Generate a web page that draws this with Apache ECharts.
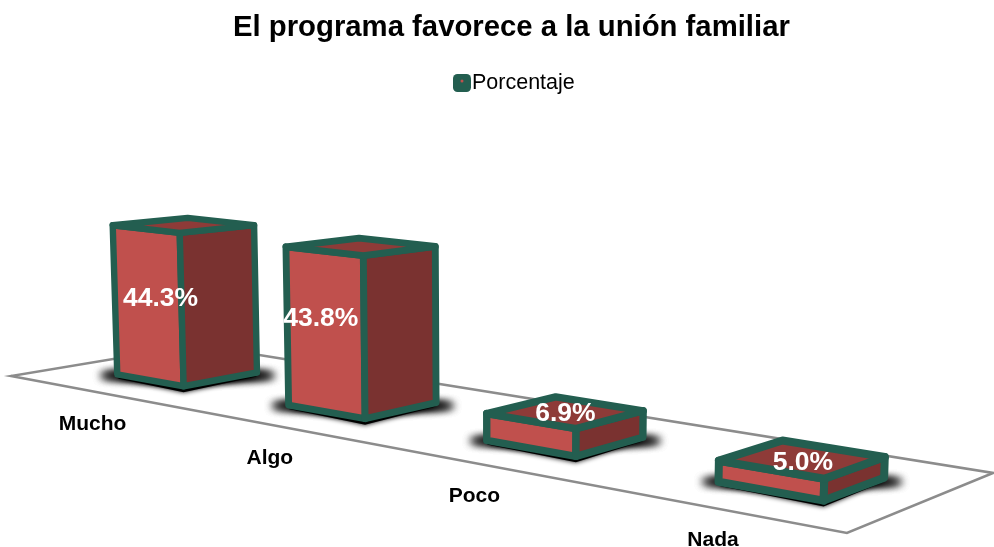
<!DOCTYPE html>
<html lang="es">
<head>
    <meta charset="UTF-8">
    <title>El programa favorece a la unión familiar</title>
    <script src="https://cdn.jsdelivr.net/npm/echarts@6/dist/echarts.min.js"></script>
    <style>
        html, body { margin: 0; padding: 0; background: #fff; }
        #chart { width: 994px; height: 547px; }
    </style>
</head>
<body>
    <div id="chart"></div>
    <script>
        var categories = ['Mucho', 'Algo', 'Poco', 'Nada'];
        var porcentaje = [44.3, 43.8, 6.9, 5.0];

        var fontName = '"Liberation Sans", Arial, sans-serif';
        var green = '#235E50';
        var frontColor = '#C0504D';
        var sideColor = '#7A3230';
        var topColor = '#8E3B38';

        // perspective of the floor: unit square -> screen
        var A = 607, B = 205.7, C = 11, D = 12.9, E = 3.4, F = 376, G = -0.2703, H = 0.0998;
        var floorWidth = 984;
        var halfU = 0.051, halfV = 0.2;
        // the data labels sit by hand on the original, not in the bar centre
        var labelNudge = [[-27, -1], [-42, -7], [0, -12], [1, -7]];

        function project(u, v, height) {
            var w = G * u + H * v + 1;
            var x = (A * u + B * v + C) / w;
            var y = (D * u + E * v + F) / w;
            var h = height / w;
            // verticals open slightly going up
            return [x + (x - 500) * h * 8e-5, y - h];
        }

        function face(points, fill, lineWidth) {
            return {
                type: 'polygon',
                shape: { points: points },
                style: { fill: fill, stroke: green, lineWidth: lineWidth, lineJoin: 'round' }
            };
        }

        // blurred black only: the shape itself is kept off the page
        function softShadow(shape, blur) {
            return {
                type: 'ellipse',
                shape: { cx: shape.cx - 2000, cy: shape.cy, rx: shape.rx, ry: shape.ry },
                style: { fill: '#000', shadowBlur: blur, shadowColor: '#000', shadowOffsetX: 2000 }
            };
        }

        function renderFloor() {
            return {
                type: 'polygon',
                shape: { points: [project(0, 0, 0), project(1, 0, 0), project(1, 1, 0), project(0, 1, 0)] },
                style: { fill: '#fff', stroke: '#8C8C8C', lineWidth: 2.5, lineJoin: 'miter' }
            };
        }

        function renderBar(params, api) {
            var i = api.value(0);
            var value = api.value(1);
            var box = params.coordSys;
            var base = api.coord([i, 0]);
            var height = base[1] - api.coord([i, value])[1];
            var u = (base[0] - box.x) / floorWidth;
            var v = 0.5;

            var u0 = u - halfU, u1 = u + halfU, v0 = v - halfV, v1 = v + halfV;
            var left = project(u0, v0, 0), front = project(u1, v0, 0), right = project(u1, v1, 0), back = project(u0, v1, 0);
            var topLeft = project(u0, v0, height), topFront = project(u1, v0, height);
            var topRight = project(u1, v1, height), topBack = project(u0, v1, height);
            var centre = project(u, v, 0);
            var middle = project(u, v, height / 2);
            var lineWidth = 6.5 / (G * u + H * v + 1);

            var shadow = { cx: centre[0], cy: (left[1] + right[1]) / 2 + 2, rx: (right[0] - left[0]) / 2 + 17, ry: 5 };
            var children = [
                softShadow(shadow, 8),
                softShadow(shadow, 8),
                softShadow(shadow, 8),
                {
                    type: 'polygon',
                    shape: { points: [[left[0], left[1] + 4], [front[0], front[1] + 6], [right[0], right[1] + 4], back] },
                    style: { fill: '#000', shadowBlur: 5, shadowColor: '#000' }
                },
                face([left, front, topFront, topLeft], frontColor, lineWidth),
                face([front, right, topRight, topFront], sideColor, lineWidth),
                face([topLeft, topFront, topRight, topBack], topColor, lineWidth),
                {
                    type: 'text',
                    style: {
                        x: centre[0] + labelNudge[i][0],
                        y: middle[1] + labelNudge[i][1],
                        text: value.toFixed(1) + '%',
                        fill: '#fff',
                        font: 'bold 26.5px ' + fontName,
                        align: 'center',
                        verticalAlign: 'middle'
                    }
                },
                {
                    type: 'text',
                    style: {
                        x: centre[0] - 96 + 8 * u,
                        y: centre[1] + 49.5 + 12 * u,
                        text: categories[i],
                        fill: '#000',
                        font: 'bold 21px ' + fontName,
                        align: 'center',
                        verticalAlign: 'middle'
                    }
                }
            ];
            return { type: 'group', children: children };
        }

        var chart = echarts.init(document.getElementById('chart'));

        var barData = porcentaje.map(function (p, i) {
            return [i, p];
        });

        var option = {
            animation: false,
            backgroundColor: '#fff',
            title: {
                text: 'El programa favorece a la unión familiar',
                left: 228,
                top: 8,
                textStyle: { fontFamily: fontName, fontSize: 29.3, fontWeight: 'bold', color: '#000' }
            },
            legend: {
                data: ['Porcentaje'],
                left: 448,
                top: 67,
                icon: 'roundRect',
                itemWidth: 18,
                itemHeight: 18,
                textStyle: { fontFamily: fontName, fontSize: 21.5, color: '#000', padding: [0, 0, 0, -4] }
            },
            graphic: [{
                type: 'circle',
                shape: { cx: 462, cy: 81, r: 1.5 },
                style: { fill: frontColor },
                z: 100
            }],
            grid: { left: 0, right: 0, top: 95, height: 340 },
            xAxis: { type: 'category', data: categories, show: false },
            yAxis: { type: 'value', min: 0, max: 100, show: false },
            series: [
                {
                    type: 'custom',
                    name: 'suelo',
                    silent: true,
                    z: 1,
                    renderItem: renderFloor,
                    data: [[0, 0]]
                },
                {
                    type: 'custom',
                    name: 'Porcentaje',
                    z: 2,
                    itemStyle: { color: green },
                    renderItem: renderBar,
                    encode: { x: 0, y: 1 },
                    data: barData
                }
            ]
        };

        chart.setOption(option);
    </script>
</body>
</html>
